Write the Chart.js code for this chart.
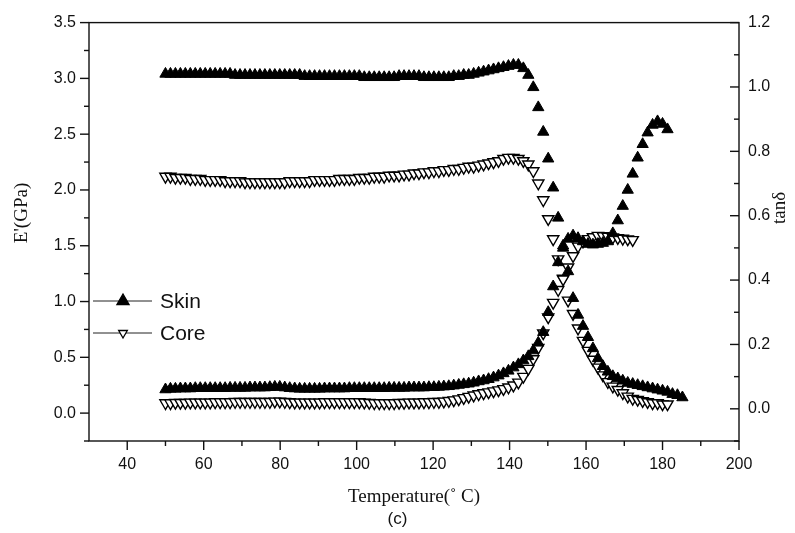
<!DOCTYPE html>
<html>
<head>
<meta charset="utf-8">
<script src="https://cdn.jsdelivr.net/npm/chart.js@4.4.0/dist/chart.umd.min.js"></script>
<style>
  html, body { margin: 0; padding: 0; background: #fff; }
  canvas { display: block; }
</style>
</head>
<body>
<canvas id="graficoDMA" width="795" height="533"></canvas>
<script>
// Temperaturas (°C) de las medidas
const temperaturas = [
  50.0, 51.3, 52.6, 53.9, 55.2, 56.5, 57.8, 59.1, 60.4, 61.7,
  63.0, 64.3, 65.6, 66.9, 68.2, 69.5, 70.8, 72.1, 73.4, 74.7,
  76.0, 77.3, 78.6, 79.9, 81.2, 82.5, 83.8, 85.1, 86.4, 87.7,
  89.0, 90.3, 91.6, 92.9, 94.2, 95.5, 96.8, 98.1, 99.4, 100.7,
  102.0, 103.3, 104.6, 105.9, 107.2, 108.5, 109.8, 111.1, 112.4, 113.7,
  115.0, 116.3, 117.6, 118.9, 120.2, 121.5, 122.8, 124.1, 125.4, 126.7,
  128.0, 129.3, 130.6, 131.9, 133.2, 134.5, 135.8, 137.1, 138.4, 139.7,
  141.0, 142.3, 143.6, 144.9, 146.2, 147.5, 148.8, 150.1, 151.4, 152.7,
  154.0, 155.3, 156.6, 157.9, 159.2, 160.5, 161.8, 163.1, 164.4, 165.7,
  167.0, 168.3, 169.6, 170.9, 172.2, 173.5, 174.8, 176.1, 177.4, 178.7,
  180.0, 181.3, 182.6, 183.9, 185.2
];

// E' (GPa) - Skin
const moduloSkin = [
  3.04, 3.04, 3.04, 3.04, 3.04, 3.04, 3.04, 3.04, 3.04, 3.04,
  3.04, 3.04, 3.04, 3.04, 3.03, 3.03, 3.03, 3.03, 3.03, 3.03,
  3.03, 3.03, 3.03, 3.03, 3.03, 3.03, 3.03, 3.03, 3.02, 3.02,
  3.02, 3.02, 3.02, 3.02, 3.02, 3.02, 3.02, 3.02, 3.02, 3.02,
  3.01, 3.01, 3.01, 3.01, 3.01, 3.01, 3.01, 3.02, 3.02, 3.02,
  3.02, 3.02, 3.01, 3.01, 3.01, 3.01, 3.01, 3.01, 3.02, 3.02,
  3.03, 3.03, 3.04, 3.05, 3.06, 3.07, 3.08, 3.09, 3.10, 3.11,
  3.12, 3.12, 3.09, 3.03, 2.92, 2.74, 2.52, 2.28, 2.02, 1.75,
  1.50, 1.27, 1.03, 0.88, 0.78, 0.68, 0.58, 0.49, 0.42, 0.37,
  0.33, 0.31, 0.29, 0.27, 0.26, 0.25, 0.24, 0.23, 0.22, 0.21,
  0.20, 0.19, 0.17, 0.16, 0.14
];

// E' (GPa) - Core
const moduloCore = [
  2.12, 2.12, 2.11, 2.11, 2.11, 2.10, 2.10, 2.10, 2.09, 2.09,
  2.09, 2.09, 2.08, 2.08, 2.08, 2.08, 2.07, 2.07, 2.07, 2.07,
  2.07, 2.07, 2.07, 2.07, 2.07, 2.08, 2.08, 2.08, 2.08, 2.08,
  2.09, 2.09, 2.09, 2.09, 2.09, 2.10, 2.10, 2.10, 2.10, 2.11,
  2.11, 2.11, 2.12, 2.12, 2.12, 2.13, 2.13, 2.13, 2.14, 2.14,
  2.15, 2.15, 2.16, 2.16, 2.17, 2.17, 2.18, 2.18, 2.19, 2.19,
  2.20, 2.21, 2.21, 2.22, 2.23, 2.24, 2.25, 2.26, 2.28, 2.29,
  2.29, 2.28, 2.26, 2.23, 2.17, 2.06, 1.91, 1.74, 1.56, 1.38,
  1.20, 1.01, 0.89, 0.76, 0.65, 0.56, 0.48, 0.41, 0.34, 0.28,
  0.24, 0.21, 0.18, 0.15, 0.13, 0.12, 0.11, 0.10, 0.09, 0.09,
  0.08, 0.08
];

// tan delta - Skin
const tanSkin = [
  0.060, 0.062, 0.062, 0.063, 0.063, 0.063, 0.064, 0.064, 0.064, 0.064,
  0.064, 0.064, 0.064, 0.065, 0.065, 0.065, 0.065, 0.066, 0.066, 0.066,
  0.066, 0.067, 0.068, 0.068, 0.066, 0.064, 0.063, 0.062, 0.062, 0.062,
  0.062, 0.062, 0.063, 0.063, 0.063, 0.063, 0.063, 0.064, 0.064, 0.064,
  0.064, 0.064, 0.064, 0.064, 0.064, 0.065, 0.065, 0.065, 0.065, 0.066,
  0.066, 0.066, 0.066, 0.067, 0.067, 0.068, 0.069, 0.070, 0.072, 0.074,
  0.076, 0.078, 0.081, 0.085, 0.088, 0.092, 0.097, 0.103, 0.110, 0.118,
  0.128, 0.138, 0.150, 0.163, 0.181, 0.205, 0.238, 0.300, 0.380, 0.455,
  0.500, 0.528, 0.538, 0.530, 0.520, 0.512, 0.510, 0.512, 0.515, 0.520,
  0.545, 0.585, 0.630, 0.680, 0.730, 0.780, 0.822, 0.858, 0.882, 0.893,
  0.885, 0.868
];

// tan delta - Core
const tanCore = [
  0.018, 0.018, 0.019, 0.019, 0.019, 0.020, 0.020, 0.020, 0.020, 0.020,
  0.021, 0.021, 0.021, 0.021, 0.022, 0.022, 0.022, 0.022, 0.022, 0.022,
  0.022, 0.022, 0.023, 0.023, 0.022, 0.021, 0.020, 0.020, 0.020, 0.020,
  0.020, 0.020, 0.021, 0.021, 0.021, 0.021, 0.021, 0.021, 0.021, 0.021,
  0.020, 0.019, 0.018, 0.018, 0.018, 0.018, 0.018, 0.019, 0.019, 0.020,
  0.020, 0.020, 0.021, 0.021, 0.022, 0.022, 0.023, 0.025, 0.027, 0.030,
  0.034, 0.038, 0.042, 0.046, 0.049, 0.052, 0.055, 0.058, 0.062, 0.067,
  0.073, 0.082, 0.100, 0.125, 0.155, 0.190, 0.235, 0.285, 0.330, 0.370,
  0.405, 0.440, 0.475, 0.505, 0.520, 0.528, 0.534, 0.538, 0.537, 0.535,
  0.533, 0.531, 0.529, 0.527, 0.525
];

// Marcas de los ejes
const ticksTemperatura = [40, 60, 80, 100, 120, 140, 160, 180, 200];
const ticksModulo = [0, 0.5, 1.0, 1.5, 2.0, 2.5, 3.0, 3.5];
const ticksTan = [0, 0.2, 0.4, 0.6, 0.8, 1.0, 1.2];

const puntos = (valores) => valores.map((v, i) => ({ x: temperaturas[i], y: v }));

const fuenteTicks = { family: "'Liberation Sans', Arial, sans-serif", size: 16 };
const colorTexto = "#111";

// Marco, marcas menores, títulos de ejes Y y leyenda
const marcoYLeyenda = {
  id: "marcoYLeyenda",
  afterDraw(chart) {
    const { ctx, chartArea: a, scales } = chart;
    const linea = (x1, y1, x2, y2) => {
      ctx.beginPath();
      ctx.moveTo(x1, y1);
      ctx.lineTo(x2, y2);
      ctx.stroke();
    };
    ctx.save();
    ctx.strokeStyle = "#111";
    ctx.lineWidth = 1.4;
    ctx.strokeRect(a.left, a.top, a.right - a.left, a.bottom - a.top);

    // eje X: marcas hacia abajo
    for (let v = 40; v <= 200; v += 10) {
      const px = scales.x.getPixelForValue(v);
      linea(px, a.bottom, px, a.bottom + (v % 20 === 0 ? 9 : 5));
    }
    // eje izquierdo: marcas hacia fuera
    for (let k = -1; k <= 14; k++) {
      const py = scales.y.getPixelForValue(k * 0.25);
      linea(a.left, py, a.left - (k % 2 === 0 ? 9 : 5), py);
    }
    // eje derecho: marcas hacia dentro
    for (let k = -1; k <= 12; k++) {
      const py = scales.y1.getPixelForValue(k * 0.1);
      linea(a.right, py, a.right - (k % 2 === 0 ? 9 : 5), py);
    }

    // títulos de los ejes Y
    ctx.fillStyle = colorTexto;
    ctx.font = "19px 'Liberation Serif', 'Times New Roman', serif";
    ctx.textAlign = "center";
    ctx.textBaseline = "middle";
    ctx.save();
    ctx.translate(22, 213);
    ctx.rotate(-Math.PI / 2);
    ctx.fillText("E'(GPa)", 0, 0);
    ctx.restore();
    ctx.save();
    ctx.translate(780, 208);
    ctx.rotate(-Math.PI / 2);
    ctx.fillText("tanδ", 0, 0);
    ctx.restore();

    // leyenda
    const leyenda = [
      { texto: "Skin", y: 301, relleno: true, r: 7 },
      { texto: "Core", y: 333, relleno: false, r: 5 },
    ];
    ctx.font = "21px 'Liberation Sans', Arial, sans-serif";
    ctx.textAlign = "left";
    leyenda.forEach((item) => {
      ctx.strokeStyle = "#222";
      ctx.lineWidth = 1;
      linea(93, item.y, 152, item.y);
      const cx = 123;
      const s = item.relleno ? -1 : 1;
      ctx.beginPath();
      ctx.moveTo(cx, item.y + s * item.r);
      ctx.lineTo(cx + item.r * 0.866, item.y - s * item.r * 0.5);
      ctx.lineTo(cx - item.r * 0.866, item.y - s * item.r * 0.5);
      ctx.closePath();
      ctx.fillStyle = item.relleno ? "#000" : "#fff";
      ctx.fill();
      ctx.strokeStyle = "#000";
      ctx.lineWidth = 1.3;
      ctx.stroke();
      ctx.fillStyle = colorTexto;
      ctx.fillText(item.texto, 160, item.y + 1);
    });
    ctx.restore();
  },
};

const ctxDMA = document.getElementById("graficoDMA").getContext("2d");
new Chart(ctxDMA, {
  type: "scatter",
  data: {
    datasets: [
      {
        label: "Skin E'",
        data: puntos(moduloSkin),
        yAxisID: "y",
        pointStyle: "triangle",
        pointRadius: 6.5,
        backgroundColor: "#000",
        borderColor: "#000",
        borderWidth: 1,
      },
      {
        label: "Skin tanδ",
        data: puntos(tanSkin),
        yAxisID: "y1",
        pointStyle: "triangle",
        pointRadius: 6.5,
        backgroundColor: "#000",
        borderColor: "#000",
        borderWidth: 1,
      },
      {
        label: "Core E'",
        data: puntos(moduloCore),
        yAxisID: "y",
        pointStyle: "triangle",
        pointRotation: 180,
        pointRadius: 6.5,
        backgroundColor: "#fff",
        borderColor: "#000",
        borderWidth: 1.4,
      },
      {
        label: "Core tanδ",
        data: puntos(tanCore),
        yAxisID: "y1",
        pointStyle: "triangle",
        pointRotation: 180,
        pointRadius: 6.5,
        backgroundColor: "#fff",
        borderColor: "#000",
        borderWidth: 1.4,
      },
    ],
  },
  options: {
    responsive: false,
    animation: false,
    layout: { padding: { top: 20, left: 0, right: 0, bottom: 0 } },
    plugins: {
      legend: { display: false },
      tooltip: { enabled: false },
      subtitle: {
        display: true,
        text: "(c)",
        position: "bottom",
        color: colorTexto,
        font: { family: "'Liberation Sans', Arial, sans-serif", size: 17, weight: "normal" },
        padding: { top: 0, bottom: 3 },
      },
    },
    scales: {
      x: {
        type: "linear",
        min: 30,
        max: 200,
        afterBuildTicks: (s) => { s.ticks = ticksTemperatura.map((v) => ({ value: v })); },
        afterFit: (s) => { s.height = 68.6; },
        grid: { display: false, drawTicks: false },
        border: { display: false },
        ticks: { font: fuenteTicks, color: colorTexto, padding: 14, maxRotation: 0 },
        title: {
          display: true,
          text: "Temperature(˚ C)",
          color: colorTexto,
          font: { family: "'Liberation Serif', 'Times New Roman', serif", size: 19 },
          padding: { top: 0, bottom: 1.4 },
        },
      },
      y: {
        position: "left",
        min: -0.25,
        max: 3.5,
        afterBuildTicks: (s) => { s.ticks = ticksModulo.map((v) => ({ value: v })); },
        afterFit: (s) => { s.width = 89; },
        grid: { display: false, drawTicks: false },
        border: { display: false },
        ticks: { font: fuenteTicks, color: colorTexto, padding: 13, callback: (v) => v.toFixed(1) },
      },
      y1: {
        position: "right",
        min: -0.1,
        max: 1.2,
        afterBuildTicks: (s) => { s.ticks = ticksTan.map((v) => ({ value: v })); },
        afterFit: (s) => { s.width = 56; },
        grid: { display: false, drawTicks: false },
        border: { display: false },
        ticks: { font: fuenteTicks, color: colorTexto, padding: 9, callback: (v) => v.toFixed(1) },
      },
    },
  },
  plugins: [marcoYLeyenda],
});
</script>
</body>
</html>
